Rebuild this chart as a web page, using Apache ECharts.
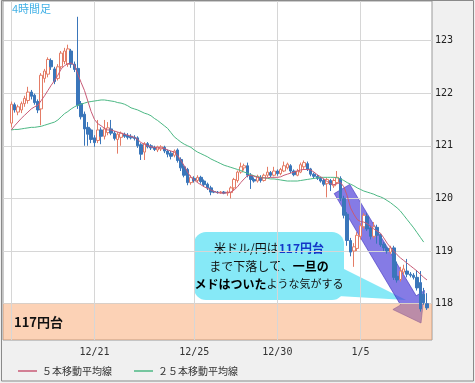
<!DOCTYPE html>
<html><head><meta charset="utf-8">
<script src="https://cdn.jsdelivr.net/npm/echarts@6/dist/echarts.min.js"></script>
<style>html,body{margin:0;padding:0;background:#f0f0f0}#c{width:475px;height:383px}</style>
</head><body><div id="c"></div>
<script>
// ---- data (4-hour candles: open, close, low, high) ----
const candles = [
[121.43,121.79,121.35,121.84],[121.78,121.68,121.63,121.82],[121.64,121.74,121.58,121.78],[121.68,121.80,121.62,121.84],
[121.80,121.90,121.74,121.95],[121.86,122.02,121.80,122.12],[122.02,121.94,121.88,122.06],[121.96,121.82,121.78,121.99],
[121.84,121.68,121.62,121.88],[121.70,122.34,121.39,122.38],[122.28,122.42,122.20,122.46],[122.36,122.64,122.30,122.68],
[122.62,122.50,122.44,122.66],[122.46,122.22,122.17,122.50],[122.28,122.50,122.24,122.55],[122.50,122.76,122.46,122.80],
[122.60,122.80,122.55,122.86],[122.55,122.84,122.50,122.92],[122.80,122.55,122.48,122.84],[122.55,122.45,122.40,122.60],
[122.47,121.77,121.70,123.45],[121.80,121.55,121.50,121.85],[121.60,121.32,121.00,121.65],[121.35,121.22,121.00,121.45],
[121.30,121.12,121.05,121.33],[121.15,121.06,120.98,121.20],[121.10,121.30,121.05,121.49],[121.30,121.18,121.03,121.35],
[121.18,121.32,121.12,121.49],[121.25,121.34,121.20,121.45],[121.32,121.24,121.20,121.49],[121.24,121.14,121.10,121.28],
[121.12,121.22,120.85,121.26],[121.16,121.24,121.00,121.27],[121.22,121.18,121.15,121.25],[121.20,121.16,121.12,121.24],
[121.18,121.15,121.12,121.22],[121.16,121.14,121.10,121.20],[121.15,121.00,120.96,121.18],[121.02,120.84,120.73,121.05],
[120.88,121.04,120.73,121.07],[121.04,120.98,120.95,121.07],[121.00,120.96,120.92,121.03],[120.97,120.93,120.90,121.00],
[120.92,120.98,120.88,121.00],[120.94,120.98,120.90,121.01],[120.97,120.90,120.86,121.00],[120.90,120.84,120.78,120.93],
[120.86,120.80,120.74,120.90],[120.82,120.90,120.78,120.93],[120.92,120.72,120.68,120.95],[120.74,120.58,120.52,120.78],
[120.60,120.44,120.40,120.63],[120.55,120.30,120.25,120.58],[120.30,120.40,120.26,120.44],[120.38,120.34,120.30,120.42],
[120.34,120.40,120.30,120.44],[120.40,120.32,120.28,120.43],[120.33,120.26,120.22,120.36],[120.27,120.20,120.16,120.30],
[120.20,120.12,120.06,120.24],[120.13,120.12,120.10,120.15],[120.12,120.11,120.09,120.14],[120.11,120.12,120.09,120.14],
[120.12,120.10,120.08,120.14],[120.10,120.12,120.05,120.15],[120.11,120.20,120.00,120.23],[120.20,120.36,120.16,120.39],
[120.34,120.50,120.30,120.53],[120.50,120.60,120.47,120.68],[120.58,120.62,120.53,120.66],[120.62,120.44,120.40,120.68],
[120.44,120.36,120.18,120.48],[120.36,120.33,120.30,120.40],[120.33,120.42,120.30,120.45],[120.40,120.34,120.30,120.44],
[120.34,120.44,120.32,120.47],[120.44,120.50,120.40,120.60],[120.49,120.44,120.40,120.52],[120.44,120.52,120.42,120.60],
[120.52,120.47,120.43,120.55],[120.47,120.55,120.44,120.58],[120.52,120.62,120.50,120.70],[120.58,120.65,120.55,120.68],
[120.62,120.52,120.48,120.65],[120.52,120.45,120.42,120.55],[120.44,120.52,120.42,120.56],[120.50,120.64,120.48,120.68],
[120.60,120.68,120.56,120.72],[120.66,120.55,120.52,120.70],[120.56,120.46,120.42,120.58],[120.46,120.42,120.38,120.49],
[120.42,120.38,120.35,120.45],[120.38,120.33,120.30,120.41],[120.34,120.27,120.23,120.37],[120.28,120.36,120.02,120.39],
[120.34,120.26,120.14,120.37],[120.24,120.34,120.20,120.38],[120.30,120.40,120.27,120.52],[120.38,120.00,119.95,120.42],
[120.00,119.68,119.62,120.05],[119.70,119.20,119.10,119.74],[119.20,118.98,118.90,119.25],[119.00,119.08,118.70,119.15],
[119.05,119.30,119.00,119.36],[119.28,119.48,119.22,119.53],[119.46,119.68,119.42,119.72],[119.66,119.42,119.38,119.72],
[119.44,119.28,119.22,119.48],[119.28,119.46,119.24,119.55],[119.45,119.30,119.14,119.50],[119.30,119.12,119.08,119.33],
[119.13,119.06,119.00,119.17],[119.05,119.00,118.95,119.08],[118.98,119.06,118.94,119.10],[119.06,118.50,118.45,119.10],
[118.52,118.45,118.40,118.80],[118.46,118.62,118.42,118.70],[118.60,118.66,118.55,118.74],[118.62,118.56,118.50,118.85],
[118.56,118.54,118.50,118.60],[118.54,118.50,118.46,118.58],[118.50,118.30,118.25,118.64],[118.40,117.90,117.85,118.62],
[118.18,118.02,117.98,118.30],[118.00,117.92,117.88,118.20]
];
const ma5 = [
121.30,121.38,121.45,121.52,121.58,121.64,121.70,121.74,121.77,121.86,121.95,122.05,122.15,122.24,122.34,122.46,
122.52,122.56,122.57,122.53,122.36,122.20,122.05,121.85,121.65,121.50,121.42,121.38,121.33,121.30,121.30,121.28,
121.26,121.24,121.22,121.20,121.18,121.16,121.12,121.06,121.03,121.00,120.98,120.97,120.96,120.96,120.95,120.92,
120.90,120.88,120.82,120.72,120.62,120.50,120.40,120.35,120.30,120.26,120.22,120.19,120.16,120.13,120.11,120.10,
120.10,120.11,120.12,120.16,120.22,120.30,120.37,120.43,120.44,120.42,120.40,120.39,120.39,120.39,120.40,120.40,
120.40,120.41,120.44,120.46,120.48,120.50,120.52,120.54,120.55,120.55,120.54,120.50,120.45,120.41,120.37,120.32,
120.28,120.26,120.28,120.30,120.22,120.05,119.82,119.70,119.60,119.56,119.55,119.52,119.47,119.42,119.38,119.34,
119.25,119.15,119.07,119.00,118.93,118.87,118.82,118.77,118.72,118.67,118.62,118.56,118.50,118.45
];
const ma25 = [
121.30,121.31,121.31,121.32,121.33,121.34,121.35,121.35,121.36,121.37,121.39,121.41,121.43,121.45,121.49,121.55,
121.61,121.65,121.70,121.74,121.77,121.79,121.81,121.83,121.84,121.85,121.86,121.87,121.87,121.86,121.85,121.84,
121.82,121.81,121.79,121.76,121.72,121.70,121.68,121.65,121.62,121.60,121.57,121.52,121.48,121.43,121.38,121.33,
121.25,121.17,121.12,121.07,121.03,121.00,120.97,120.92,120.88,120.85,120.82,120.79,120.75,120.72,120.69,120.66,
120.63,120.61,120.59,120.57,120.55,120.53,120.50,120.48,120.45,120.43,120.41,120.40,120.39,120.38,120.37,120.37,
120.36,120.35,120.34,120.33,120.33,120.33,120.33,120.34,120.35,120.36,120.37,120.38,120.39,120.40,120.40,120.40,
120.40,120.40,120.39,120.37,120.34,120.30,120.27,120.24,120.20,120.17,120.14,120.12,120.10,120.08,120.05,120.03,
120.00,119.96,119.92,119.87,119.82,119.76,119.68,119.60,119.52,119.44,119.35,119.26,119.17
];
const yTicks = [118, 119, 120, 121, 122, 123];
const tickLabels = ['', '12/21', '12/25', '12/30', '1/5'];
const tickBars = [0, 25, 55, 80, 105];
const seriesNames = ['５本移動平均線', '２５本移動平均線'];
const bandLabel = '117円台';
const LEAD = 2, TRAIL = 1;

// ---- build category slots ----
const nSlots = LEAD + candles.length + TRAIL;
const categories = [];
for (let i = 0; i < nSlots; i++) categories.push('');
tickBars.forEach((b, k) => { categories[b + LEAD] = tickLabels[k]; });
const pad = n => Array(n).fill(null);
const candleData = [...Array(LEAD).fill(['-','-','-','-']), ...candles];
const ma5Data = [...pad(LEAD), ...ma5];
const ma25Data = [...pad(LEAD), ...ma25];

const chart = echarts.init(document.getElementById('c'), null, {renderer: 'canvas'});
const jp = '"Noto Sans CJK JP", sans-serif';
const mono = '"DejaVu Sans Mono", monospace';

chart.setOption({
  animation: false,
  backgroundColor: '#f0f0f0',
  grid: {left: 3, top: 1, right: 43, bottom: 43, show: true, backgroundColor: '#ffffff', borderColor: '#999999', borderWidth: 1},
  xAxis: {
    type: 'category', data: categories, boundaryGap: true,
    axisLine: {show: false}, axisTick: {show: false}, splitLine: {show: false},
    axisLabel: {interval: 0, color: '#333', fontFamily: mono, fontSize: 10, margin: 7}
  },
  yAxis: {
    type: 'value', position: 'right', min: 117.31, max: 123.75, scale: true,
    axisLine: {show: false},
    axisTick: {show: false, customValues: yTicks},
    axisLabel: {customValues: yTicks, color: '#222', fontFamily: mono, fontSize: 10, margin: 3, formatter: v => String(v)},
    splitLine: {show: true, lineStyle: {color: '#d6d6d6', width: 1}}
  },
  legend: {
    left: 13, top: 361, icon: 'rect', itemWidth: 19, itemHeight: 1.5, itemGap: 22,
    textStyle: {fontFamily: jp, fontSize: 10, color: '#333'},
    data: seriesNames
  },
  series: [
    {
      type: 'candlestick', name: 'USDJPY', data: candleData, barWidth: 3, z: 3,
      itemStyle: {color: '#ffffff', color0: '#3a76ba', borderColor: '#e47c66', borderColor0: '#3a76ba', borderWidth: 1},
      markArea: {
        silent: true, z: 1,
        itemStyle: {color: 'rgba(249,160,100,0.47)'},
        label: {show: true, position: 'insideLeft', distance: 11, formatter: '{b}', color: '#111', fontFamily: jp, fontSize: 13, fontWeight: 'bold'},
        data: [[{yAxis: 117.31, name: bandLabel}, {yAxis: 118}]]
      }
    },
    {
      type: 'line', name: seriesNames[1], data: ma25Data, showSymbol: false, z: 4,
      lineStyle: {color: '#4cb884', width: 1}, itemStyle: {color: '#4cb884'},
      markLine: {
        silent: true, symbol: 'none', z: 2, animation: false,
        label: {show: false}, lineStyle: {color: '#d6d6d6', width: 1, type: 'solid'},
        emphasis: {disabled: true},
        data: tickBars.map(b => ({xAxis: b + LEAD}))
      }
    },
    {
      type: 'line', name: seriesNames[0], data: ma5Data, showSymbol: false, z: 5,
      lineStyle: {color: '#c85a76', width: 1}, itemStyle: {color: '#c85a76'}
    }
  ],
  graphic: [
    {type: 'rect', silent: true, z: 100, shape: {x: 1.5, y: 0.5, width: 472, height: 380.5},
      style: {fill: 'none', stroke: '#8a8a8a', lineWidth: 1}},
    {type: 'text', silent: true, z: 100, left: 12, top: 3,
      style: {text: '4時間足', fill: '#3fb0e6', font: '11px "Noto Sans CJK JP"'}},
    {type: 'group', silent: true, z: 95, children: [
      {type: 'rect', shape: {x: 194, y: 232, width: 150, height: 68, r: 12}, style: {fill: '#86e9f7'}},
      {type: 'polygon', shape: {points: [[338,266],[406,300],[338,296]]}, style: {fill: '#86e9f7'}},
      {type: 'text', x: 269, y: 239, style: {
        text: '{a|米ドル/円は}{b|117円台}\n{a|まで下落して、}{c|一旦の}\n{c|メドはついた}{d|ような気がする}',
        align: 'center', verticalAlign: 'top', lineHeight: 18,
        rich: {
          a: {fontFamily: jp, fontSize: 12, fill: '#111', color: '#111', lineHeight: 18},
          b: {fontFamily: jp, fontSize: 12, fontWeight: 'bold', fill: '#1438c8', color: '#1438c8', lineHeight: 18},
          c: {fontFamily: jp, fontSize: 12, fontWeight: 'bold', fill: '#000', color: '#000', lineHeight: 18},
          d: {fontFamily: jp, fontSize: 11, fill: '#111', color: '#111', lineHeight: 18}
        }
      }}
    ]},
    {type: 'group', silent: true, z: 98, children: [
      {type: 'polygon', shape: {points: [[334.2,193.6],[349.8,184.4],[416.2,295.8],[424.5,290.5],[421,323],[392.9,309.5],[400.6,305]]},
        style: {fill: 'rgba(70,55,215,0.66)', stroke: 'rgba(60,45,190,0.6)', lineWidth: 1}}
    ]}
  ]
});
</script></body></html>
